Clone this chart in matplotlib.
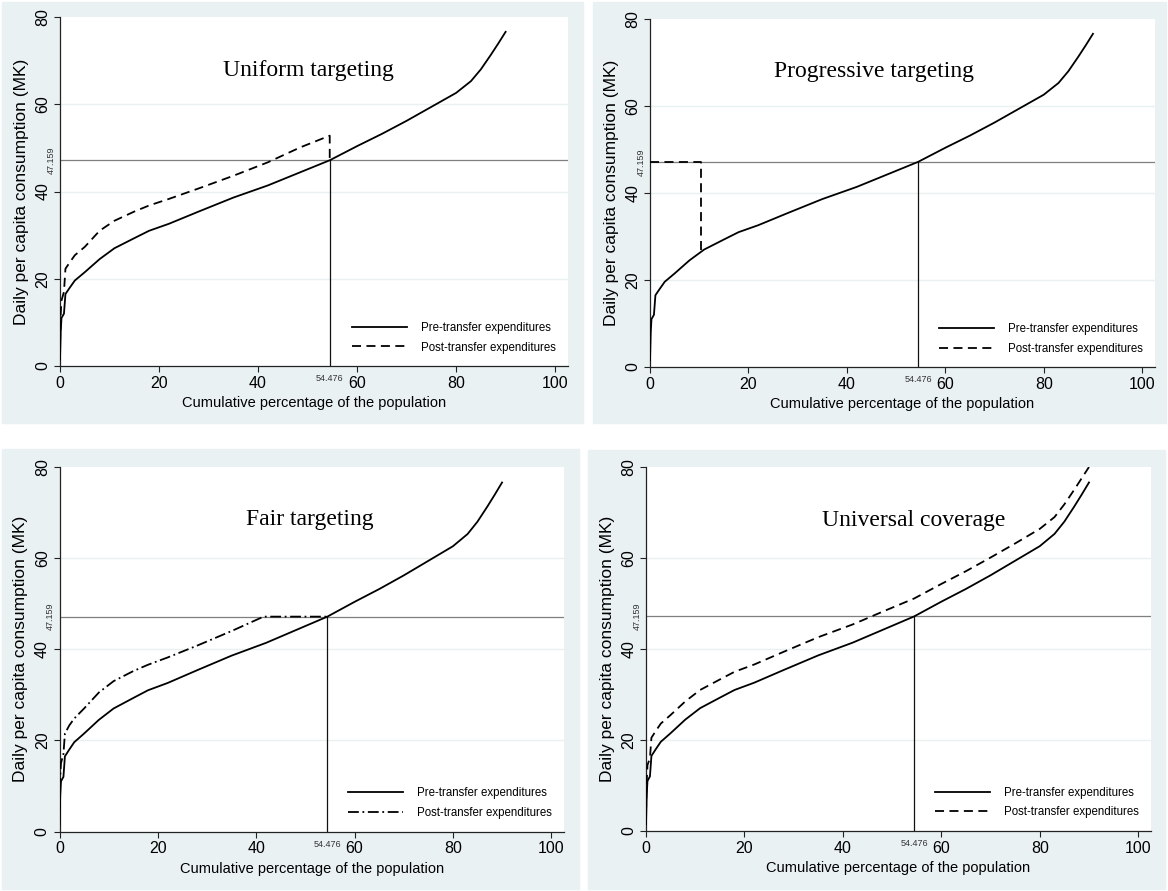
import numpy as np
import matplotlib
matplotlib.use('Agg')
import matplotlib.pyplot as plt
from matplotlib.patches import Rectangle

plt.rcParams['font.family'] = ['Liberation Sans', 'DejaVu Sans']

# values
pct = [0, 0.15, 0.3, 0.8, 1.1, 2, 3, 5, 8, 11, 15, 18, 22, 28, 35, 42, 48.5, 54.476,
       60, 65, 70, 75, 80, 83, 85, 87, 88.5, 90]
pre = [1.5, 8, 11, 12, 16.5, 18, 19.6, 21.5, 24.5, 27, 29.3, 31, 32.6, 35.4, 38.6, 41.4, 44.4, 47.159,
       50.4, 53.2, 56.2, 59.4, 62.6, 65.3, 68, 71.3, 73.9, 76.6]

uniform_x = [0, 0.15, 0.3, 0.8, 1.1, 2, 3, 5, 8, 11, 15, 18, 22, 28, 35, 42, 48.5, 54.476, 54.476]
uniform_y = [5, 12, 15, 17, 22.3, 23.8, 25.4, 27.3, 31.0, 33.3, 35.4, 36.8, 38.3, 40.7, 43.6, 46.7, 50.1, 52.8, 47.159]

progressive_x = [0, 10.3, 10.3]
progressive_y = [47.159, 47.159, 26.8]

fair_x = [0, 0.15, 0.3, 0.8, 1.1, 2, 3, 5, 8, 11, 15, 18, 22, 28, 35, 41.5, 54.476]
fair_y = [5, 12, 15, 17, 21.5, 23.3, 24.8, 27, 30.5, 33, 35.2, 36.6, 38.2, 40.8, 44, 47.159, 47.159]

universal_y = [4, 11, 14.5, 16, 20.5, 22, 23.6, 25.5, 28.5, 31, 33.3, 35, 36.6, 39.4, 42.6, 45.4, 48.4, 51.1,
               54.3, 57.1, 60.1, 63.2, 66.4, 69.0, 71.8, 75.0, 77.5, 80]

poverty_line = 47.159
poor_share = 54.476

titles = ['Uniform targeting', 'Progressive targeting', 'Fair targeting', 'Universal coverage']
posts = [(uniform_x, uniform_y), (progressive_x, progressive_y), (fair_x, fair_y), (pct, universal_y)]
post_styles = [(0, (5, 3)), (0, (5, 3)), (0, (6, 2, 1, 2)), (0, (5, 3))]
title_pos = [(0.489, 0.848), (0.443, 0.85), (0.497, 0.855), (0.531, 0.853)]

W, H = 1168, 891
fig = plt.figure(figsize=(W / 100, H / 100), dpi=100)
bg = '#eaf1f3'

# panel backgrounds (pixels: left, top, right, bottom)
panels = [(2, 2, 583, 423), (593, 2, 1166, 423), (2, 449, 579, 889), (588, 450, 1165, 889)]
for l, t, r, b in panels:
    fig.patches.append(Rectangle((l / W, 1 - b / H), (r - l) / W, (b - t) / H,
                                 transform=fig.transFigure, color=bg, zorder=-5))

# plot areas in pixels
areas = [(60, 17, 568, 366), (650, 19, 1155, 367), (59.5, 467, 564, 831.5), (646, 467, 1151, 831)]

for i, (l, t, r, b) in enumerate(areas):
    ax = fig.add_axes([l / W, 1 - b / H, (r - l) / W, (b - t) / H], zorder=2)
    ax.set_facecolor('white')
    ax.set_xlim(0, 102.6)
    ax.set_ylim(0, 80)
    for s in ['top', 'right']:
        ax.spines[s].set_visible(False)
    for s in ['left', 'bottom']:
        ax.spines[s].set_color('#222222')
        ax.spines[s].set_linewidth(0.9)
    ax.set_xticks([0, 20, 40, 60, 80, 100])
    ax.set_yticks([0, 20, 40, 60, 80])
    ax.tick_params(length=4, width=0.8, color='#222222', labelsize=11.5, pad=3)
    for lab in ax.get_yticklabels():
        lab.set_rotation(90)
        lab.set_va('center')
    for g in [20, 40, 60]:
        ax.axhline(g, color='#e8f0f2', lw=1.0, zorder=1)

    ax.axhline(poverty_line, color='#7f7f7f', lw=0.9, zorder=2)
    ax.plot([poor_share, poor_share], [0, poverty_line], color='#111111', lw=0.9, zorder=2)

    ax.plot(pct, pre, color='black', lw=1.3, label='Pre-transfer expenditures', zorder=3)
    px, py = posts[i]
    ax.plot(px, py, color='black', lw=1.3, linestyle=post_styles[i],
            label='Post-transfer expenditures', zorder=3)

    ax.text(title_pos[i][0], title_pos[i][1], titles[i], transform=ax.transAxes,
            fontsize=17, family=['Liberation Serif', 'DejaVu Serif'], ha='center', va='center')

    ax.text(-0.018, poverty_line, '47.159', transform=ax.get_yaxis_transform(),
            rotation=90, fontsize=6.5, ha='center', va='center', color='#333333')
    ax.text(poor_share, -0.022, '54.476', transform=ax.get_xaxis_transform(),
            fontsize=6.5, ha='center', va='top', color='#333333')

    ax.set_xlabel('Cumulative percentage of the population', fontsize=10.5)
    ax.xaxis.set_label_coords(0.5, -30 / (b - t))
    ax.set_ylabel('Daily per capita consumption (MK)', fontsize=12.5)
    ax.yaxis.set_label_coords(-31 / (r - l), 0.5)

    leg = ax.legend(loc='lower right', bbox_to_anchor=(0.997, 0.006), frameon=False,
                    fontsize=8.3, handlelength=4.8, handletextpad=1.2, labelspacing=0.65)

fig.savefig('out.png', dpi=100)
